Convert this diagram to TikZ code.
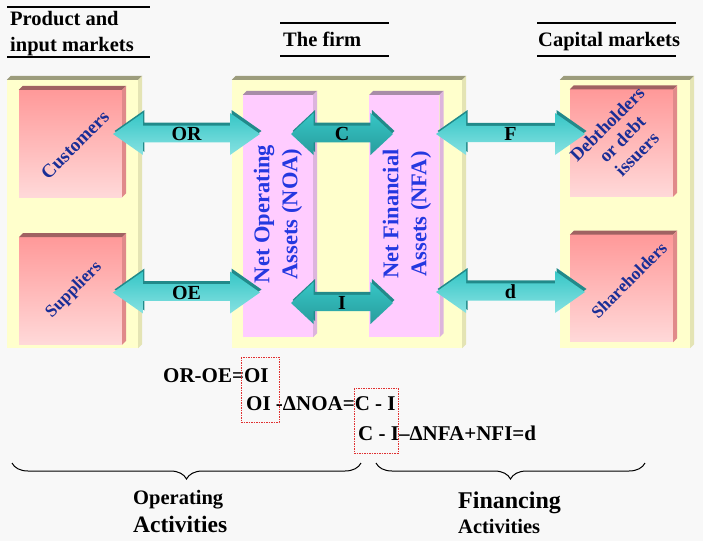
\documentclass[tikz,border=0pt]{standalone}
\usepackage{fontspec}
\setmainfont{Liberation Serif}
\usetikzlibrary{positioning,shapes.arrows,shadows,calc,decorations.pathreplacing}

\definecolor{bggray}{HTML}{F8F8F8}
\definecolor{panelyellow}{HTML}{FFFFCC}
\definecolor{paneltop}{HTML}{9C9C7C}
\definecolor{panelside}{HTML}{E4E4B4}
\definecolor{partytop}{HTML}{FF9999}
\definecolor{partybottom}{HTML}{FFD9D9}
\definecolor{partylid}{HTML}{A06262}
\definecolor{partyside}{HTML}{E08A8A}
\definecolor{assetpink}{HTML}{FFCCFF}
\definecolor{assetlid}{HTML}{A88CA8}
\definecolor{assetside}{HTML}{DDB4DD}
\definecolor{tealdark}{HTML}{218A8A}
\definecolor{tealmid}{HTML}{36C6C6}
\definecolor{teallight}{HTML}{88E2E2}
\definecolor{tealdeep}{HTML}{289C9C}
\definecolor{navytext}{HTML}{1A2E96}
\definecolor{bluetext}{HTML}{2438E0}
\definecolor{eqred}{HTML}{E03030}

% 3d lid and side of a box
\newcommand{\lid}[3]{%
  \fill[#2] (#1.north west) -- ($(#1.north west)+(4,-4)$) -- ($(#1.north east)+(4,-4)$) -- (#1.north east) -- cycle;
  \fill[#3] (#1.north east) -- ($(#1.north east)+(4,-4)$) -- ($(#1.south east)+(4,-4)$) -- (#1.south east) -- cycle;}

\begin{document}
\begin{tikzpicture}
  [
      x=1pt, y=-1pt,
      panel/.style={rectangle, fill=panelyellow, inner sep=0pt, minimum width=#1, minimum height=268pt},
      party/.style={rectangle, top color=partytop, bottom color=partybottom, inner sep=0pt, minimum width=103pt, minimum height=107pt},
      asset/.style={rectangle, fill=assetpink, inner sep=0pt, minimum width=70pt, minimum height=242pt},
      flow/.style={double arrow, inner sep=0pt, minimum width=42pt, double arrow head extend=10.5pt,
        double arrow tip angle=70, top color=tealmid, bottom color=teallight,
        general shadow={fill=tealdark, shadow xshift=1.5pt, shadow yshift=3pt},
        font=\fontsize{20}{24}\selectfont\bfseries},
      inner flow/.style={flow, double arrow tip angle=86, top color=tealmid, bottom color=tealdeep},
      party text/.style 2 args={text=navytext, font=\fontsize{#1}{#2}\selectfont\bfseries, align=center, inner sep=0pt},
      asset text/.style={text=bluetext, font=\fontsize{22.5}{28}\selectfont\bfseries, align=center, inner sep=0pt},
      head/.style={anchor=base west, inner sep=0pt, font=\fontsize{20.5}{24}\selectfont\bfseries},
      rule/.style={line width=1.2pt},
      eq/.style={anchor=base west, inner sep=0pt, font=\fontsize{21}{24}\selectfont\bfseries},
      redbox/.style={draw=eqred, line width=0.8pt, dash pattern=on 1.5pt off 1pt},
      brace/.style={decorate, decoration={brace, mirror, amplitude=16pt}, line width=1pt}
    ]
    \fill[bggray] (0,0) rectangle (703,541);
    \useasboundingbox (0,0) rectangle (703,541);

    % panels
    \node (mkt) [panel=131pt] at (72.5,214) {};
    \node (firm) [panel=230pt] at (347,214) {};
    \node (cap) [panel=130pt] at (625,214) {};
    \foreach \p in {mkt,firm,cap}
      {\lid{\p}{paneltop}{panelside}}

    % parties and assets
    \node (cust) [party] at (70.5,143.5) {};
    \node (supp) [below=40pt of cust, party] {};
    \node (debt) [party] at (621.5,143) {};
    \node (share) [below=38pt of debt, party] {};
    \node (noa) [asset] at (278,216) {};
    \node (nfa) [right=56pt of noa, asset] {};
    \foreach \p in {cust,supp,debt,share}
      {\lid{\p}{partylid}{partyside}}
    \foreach \p in {noa,nfa}
      {\lid{\p}{assetlid}{assetside}}

    % flows
    \foreach \n/\cx/\cy/\len/\t in {or/186.5/134/147/OR, oe/186.5/292.5/147/OE, f/510.5/134/149/F, dv/510.5/292/149/d}
      \node (\n) [flow, minimum height=\len pt] at (\cx,\cy) {\t};
    \foreach \n/\cy/\t in {c/134/C, i/303/I}
      \node (\n) [inner flow, minimum height=102pt] at (342,\cy) {\t};

    % labels in the boxes
    \node (custL) [party text={19}{21}, rotate=45] at (75,145) {Customers};
    \node (suppL) [party text={17.5}{20}, rotate=45] at (74,290) {Suppliers};
    \node (debtL) [party text={18.5}{21}, rotate=45] at (622,139) {Debtholders\\or debt\\issuers};
    \node (shareL) [party text={17.5}{20}, rotate=45] at (629,280) {Shareholders};
    \node (noaL) [asset text, rotate=90] at (278,214) {Net Operating\\Assets (NOA)};
    \node (nfaL) [asset text, rotate=90] at (407,214) {Net Financial\\Assets (NFA)};

    % headings
    \node (prodA) [head] at (10,25) {Product and};
    \node (prodB) [head] at (10,51) {input markets};
    \node (firmH) [head] at (283,46) {The firm};
    \node (capH) [head] at (538,46) {Capital markets};
    \draw[rule] (7,7) -- (150,7) (7,57) -- (150,57);
    \draw[rule] (280,23) -- (389,23) (280,56) -- (389,56);
    \draw[rule] (537,23) -- (676,23) (537,56) -- (676,56);

    % equations
    \node (eq1) [eq] at (163,382) {OR-OE=OI};
    \node (eq2) [eq] at (246,410) {OI -ΔNOA=C - I};
    \node (eq3) [eq] at (358,440) {C - I–ΔNFA+NFI=d};
    \draw[redbox] (241,357) rectangle (279,422);
    \draw[redbox] (354,388) rectangle (398,453);

    % activities
    \coordinate (opL) at (12,463);
    \coordinate (opR) at (361,463);
    \coordinate (fiL) at (376,463);
    \coordinate (fiR) at (645,463);
    \draw[brace] (opL) -- (opR);
    \draw[brace] (fiL) -- (fiR);
    \node (opA) [head, font=\fontsize{20.5}{24}\selectfont\bfseries] at (133,504) {Operating};
    \node (opB) [head, font=\fontsize{23.5}{26}\selectfont\bfseries] at (133,532) {Activities};
    \node (fiA) [head, font=\fontsize{24}{26}\selectfont\bfseries] at (458,508) {Financing};
    \node (fiB) [head, font=\fontsize{20.5}{24}\selectfont\bfseries] at (458,533) {Activities};
  \end{tikzpicture}
\end{document}
